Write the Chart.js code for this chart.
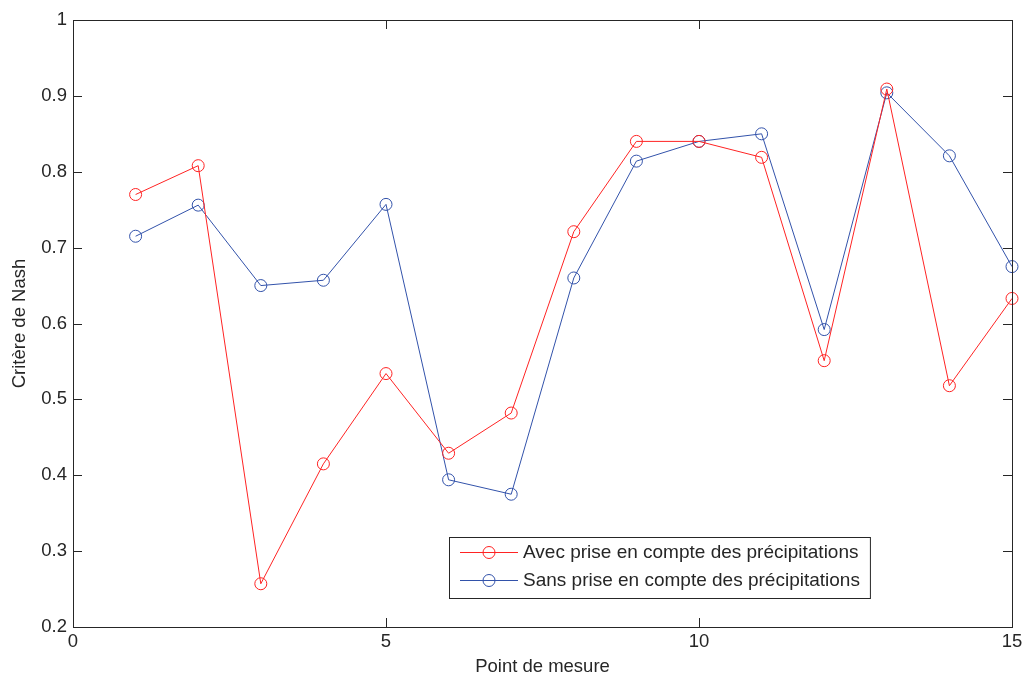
<!DOCTYPE html>
<html>
<head>
<meta charset="utf-8">
<script src="https://cdn.jsdelivr.net/npm/chart.js@4/dist/chart.umd.min.js"></script>
<style>
  html, body { margin: 0; padding: 0; background: #fff; }
  #wrap { width: 1022px; height: 675px; }
</style>
</head>
<body>
<div id="wrap"><canvas id="nashChart" width="1022" height="675"></canvas></div>
<script>
// point de mesure 1..15
const points = [1, 2, 3, 4, 5, 6, 7, 8, 9, 10, 11, 12, 13, 14, 15];
const avecPrecip = [0.77, 0.808, 0.257, 0.415, 0.534, 0.429, 0.482, 0.721, 0.840, 0.840, 0.819, 0.551, 0.909, 0.518, 0.633];
const sansPrecip = [0.715, 0.756, 0.650, 0.657, 0.757, 0.394, 0.375, 0.660, 0.814, 0.840, 0.850, 0.592, 0.904, 0.821, 0.675];
const seriesLabels = ['Avec prise en compte des précipitations', 'Sans prise en compte des précipitations'];
const xTicks = [0, 5, 10, 15];
const yTicks = [0.2, 0.3, 0.4, 0.5, 0.6, 0.7, 0.8, 0.9, 1];

const RED = 'rgb(255,35,35)';
const BLUE = 'rgb(50,82,170)';
const AXIS = '#262626';
const FONT = '"Liberation Sans", Arial, sans-serif';
const FSIZE = 18.5;

const toXY = (vals) => vals.map((v, i) => ({ x: points[i], y: v }));

// matlab style box with inward ticks on all four sides
const boxTicks = {
  id: 'boxTicks',
  afterDraw(chart) {
    const { ctx, chartArea: a, scales } = chart;
    const len = 9;
    ctx.save();
    ctx.strokeStyle = AXIS;
    ctx.lineWidth = 1;
    ctx.beginPath();
    xTicks.forEach((t) => {
      const px = Math.round(scales.x.getPixelForValue(t)) + 0.5;
      ctx.moveTo(px, a.bottom); ctx.lineTo(px, a.bottom - len);
      ctx.moveTo(px, a.top); ctx.lineTo(px, a.top + len);
    });
    yTicks.forEach((t) => {
      const py = Math.round(scales.y.getPixelForValue(t)) + 0.5;
      ctx.moveTo(a.left, py); ctx.lineTo(a.left + len, py);
      ctx.moveTo(a.right, py); ctx.lineTo(a.right - len, py);
    });
    ctx.stroke();
    ctx.strokeRect(Math.round(a.left) + 0.5, Math.round(a.top) + 0.5,
      Math.round(a.right - a.left), Math.round(a.bottom - a.top));
    ctx.restore();
  }
};

// legend box inside the plot, lower middle
const insideLegend = {
  id: 'insideLegend',
  afterDraw(chart) {
    const { ctx } = chart;
    const left = 449, top = 537, rowH = 28;
    ctx.save();
    ctx.font = '19px ' + FONT;
    const textW = Math.max(...seriesLabels.map((l) => ctx.measureText(l).width));
    const w = 74 + textW + 10, h = 61;
    ctx.fillStyle = '#fff';
    ctx.fillRect(left, top, w, h);
    ctx.strokeStyle = AXIS;
    ctx.strokeRect(left + 0.5, top + 0.5, w, h);
    chart.data.datasets.forEach((ds, i) => {
      const y = top + 15 + i * rowH;
      ctx.strokeStyle = ds.borderColor;
      ctx.lineWidth = 1;
      ctx.beginPath();
      ctx.moveTo(left + 11, y + 0.5); ctx.lineTo(left + 69, y + 0.5);
      ctx.stroke();
      ctx.beginPath();
      ctx.arc(left + 40, y + 0.5, 6, 0, Math.PI * 2);
      ctx.stroke();
      ctx.fillStyle = AXIS;
      ctx.textBaseline = 'middle';
      ctx.fillText(ds.label, left + 74, y + 1);
    });
    ctx.restore();
  }
};

const ctx = document.getElementById('nashChart').getContext('2d');
new Chart(ctx, {
  type: 'line',
  data: {
    datasets: [
      {
        label: seriesLabels[0],
        data: toXY(avecPrecip),
        borderColor: RED,
        backgroundColor: 'rgba(0,0,0,0)',
        borderWidth: 1,
        pointRadius: 6,
        pointBorderWidth: 1,
        pointBorderColor: RED,
        pointBackgroundColor: 'rgba(0,0,0,0)',
        tension: 0,
        clip: false
      },
      {
        label: seriesLabels[1],
        data: toXY(sansPrecip),
        borderColor: BLUE,
        backgroundColor: 'rgba(0,0,0,0)',
        borderWidth: 1,
        pointRadius: 6,
        pointBorderWidth: 1,
        pointBorderColor: BLUE,
        pointBackgroundColor: 'rgba(0,0,0,0)',
        tension: 0,
        clip: false
      }
    ]
  },
  options: {
    responsive: false,
    animation: false,
    events: [],
    layout: { padding: { left: 0, top: 20, right: 10, bottom: 0 } },
    plugins: {
      legend: { display: false },
      tooltip: { enabled: false }
    },
    scales: {
      x: {
        type: 'linear',
        min: 0,
        max: 15,
        grid: { display: false, drawTicks: false, tickLength: 0 },
        border: { display: false },
        afterBuildTicks: (scale) => { scale.ticks = xTicks.map((v) => ({ value: v })); },
        afterFit: (scale) => {
          scale.height = 48;
          scale.paddingLeft = 0;
          scale.paddingRight = 0;
        },
        ticks: {
          padding: 4,
          color: AXIS,
          font: { family: FONT, size: FSIZE },
          maxRotation: 0,
          callback: (v) => String(v)
        },
        title: {
          display: true,
          text: 'Point de mesure',
          color: AXIS,
          font: { family: FONT, size: FSIZE, lineHeight: 1 },
          padding: { top: 0, bottom: -1 }
        }
      },
      y: {
        type: 'linear',
        min: 0.2,
        max: 1,
        grid: { display: false, drawTicks: false, tickLength: 0 },
        border: { display: false },
        afterBuildTicks: (scale) => { scale.ticks = yTicks.map((v) => ({ value: v })); },
        afterFit: (scale) => {
          scale.width = 73;
          scale.paddingTop = 0;
          scale.paddingBottom = 0;
        },
        ticks: {
          padding: 6,
          color: AXIS,
          font: { family: FONT, size: FSIZE },
          callback: (v) => String(+v.toFixed(2))
        },
        title: {
          display: true,
          text: 'Critère de Nash',
          color: AXIS,
          font: { family: FONT, size: FSIZE, lineHeight: 1 },
          padding: { top: 11, bottom: 0 }
        }
      }
    }
  },
  plugins: [boxTicks, insideLegend]
});
</script>
</body>
</html>
